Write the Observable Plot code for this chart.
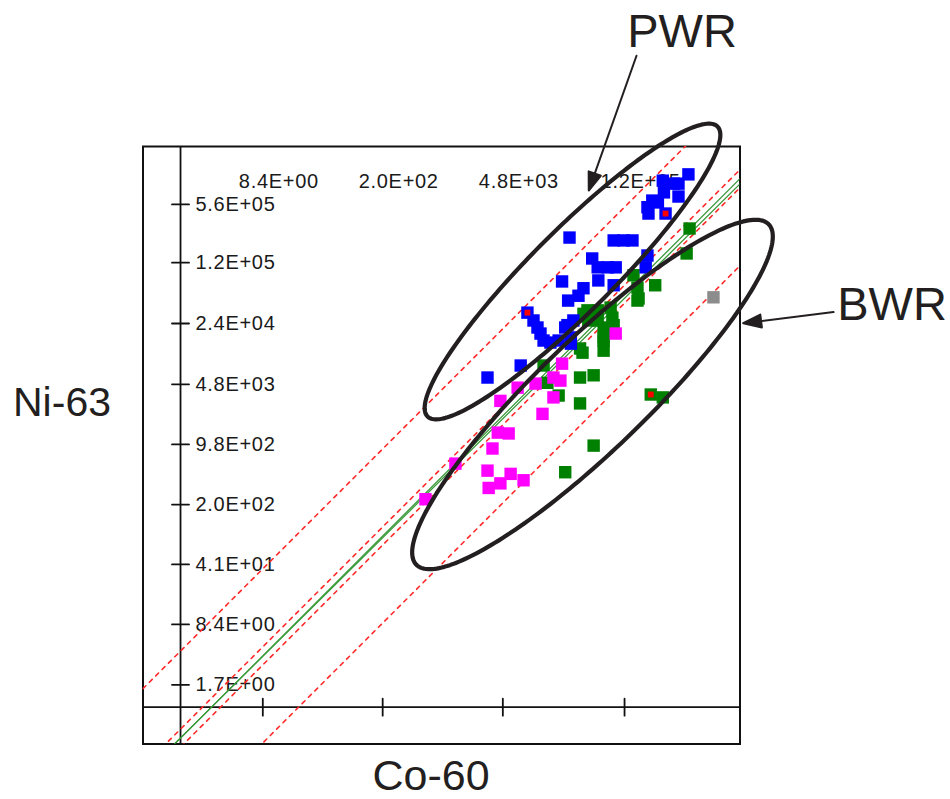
<!DOCTYPE html>
<html>
<head>
<meta charset="utf-8">
<script src="https://cdn.jsdelivr.net/npm/d3@7"></script>
<script src="https://cdn.jsdelivr.net/npm/@observablehq/plot@0.6"></script>
<style>
  html, body { margin: 0; padding: 0; background: #fff; }
  #chart svg { display: block; }
</style>
</head>
<body>
<div id="chart"></div>
<script>
// ---------- data (Co-60 vs Ni-63 activities) ----------
const co60Ticks = [8.4, 200, 4800, 120000];
const co60TickLabels = ["8.4E+00", "2.0E+02", "4.8E+03", "1.2E+05"];
const ni63Ticks = [1.7, 8.4, 41, 200, 980, 4800, 24000, 120000, 560000];
const ni63TickLabels = ["1.7E+00", "8.4E+00", "4.1E+01", "2.0E+02", "9.8E+02", "4.8E+03", "2.4E+04", "1.2E+05", "5.6E+05"];

// blue samples (PWR)
const blueCo60 = [6.5e5, 5.0e5, 3.3e5, 4.4e5, 5.0e5, 3.4e5, 2.5e5, 2.2e5, 2.26e5, 3.55e5, 2.9e5,
  2.8e4, 9.0e4, 1.17e5, 1.48e5, 2.2e5, 2.1e5, 5.1e4, 5.9e4, 7.7e4, 9.5e4, 6.0e4, 9.0e4, 2.3e4,
  4.05e4, 3.55e4, 2.7e4, 3.1e4, 2.5e4, 9.2e3, 1.08e4, 1.2e4, 1.3e4, 1.41e4, 1.69e4, 2.1e4, 2.9e4,
  2.65e4, 2.9e4, 7.7e3, 3.2e3];
const blueNi63 = [1.24e6, 9.7e5, 1.05e6, 9.7e5, 6.9e5, 7.7e5, 6.2e5, 5.2e5, 4.4e5, 4.4e5, 5.9e5,
  2.33e5, 2.16e5, 2.16e5, 2.16e5, 1.45e5, 1.06e5, 1.34e5, 1.06e5, 1.06e5, 1.06e5, 7.5e4, 6.6e4, 7.3e4,
  6.1e4, 5.0e4, 4.4e4, 2.6e4, 2.16e4, 3.2e4, 2.6e4, 2.16e4, 1.84e4, 1.53e4, 1.45e4, 1.53e4, 1.66e4,
  2.3e4, 1.41e4, 7.9e3, 5.75e3];

// green samples (BWR)
const greenCo60 = [6.7e5, 6.2e5, 2.7e5, 1.52e5, 1.69e5, 1.74e5, 8.3e4, 8.7e4, 6.9e4, 5.9e4, 4.5e4,
  4.6e4, 6.9e4, 6.9e4, 3.7e4, 4.05e4, 9.0e4, 1.69e5, 3.7e4, 5.3e4, 2.1e4, 3.7e4, 2.4e5, 3.3e5,
  5.3e4, 2.5e4, 1.41e4, 1.56e4, 5.9e4, 6.9e4, 3.95e4];
const greenNi63 = [2.96e5, 1.53e5, 6.6e4, 8.6e4, 6.2e4, 4.65e4, 3.66e4, 2.8e4, 2.16e4, 2.6e4, 3.4e4,
  2.6e4, 1.53e4, 1.17e4, 1.24e4, 3.1e4, 2.3e4, 4.4e4, 5.75e3, 6.1e3, 3.57e3, 2.9e3, 3.67e3, 3.4e3,
  950, 470, 7.9e3, 5.0e3, 3.4e4, 1.66e4, 1.11e4];

// magenta samples
const magentaCo60 = [9.5e4, 2.3e4, 1.83e4, 2.2e4, 1.14e4, 7.1e3, 1.83e4, 4.5e3, 1.37e4, 4.2e3,
  5.6e3, 3.65e3, 1.37e3, 3.2e3, 5.9e3, 8.3e3, 4.5e3, 3.3e3, 620];
const magentaNi63 = [1.84e4, 8.3e3, 5.75e3, 5.3e3, 4.9e3, 4.4e3, 3.4e3, 3.1e3, 2.2e3, 1.34e3,
  1.31e3, 880, 590, 490, 450, 380, 350, 310, 230];

// grey sample
const greyCo60 = [1.26e6];
const greyNi63 = [4.8e4];

// flagged samples (red marker)
const flaggedCo60 = [3.55e5, 9.2e3, 2.4e5];
const flaggedNi63 = [4.4e5, 3.2e4, 3.67e3];

// reference lines: Ni-63 = ratio * Co-60
const fitRatio = 0.435;
const fitExponents = [1, 0.99];
const fitPivot = 2.2;
const bandFactors = [10, 1.27, 1 / 1.27, 1 / 10];

// ellipses (in decades of Co-60 / Ni-63)
const ellipses = [
  { name: "PWR", cx: 4.4815, cy: 4.9776, a: 2.355, b: 0.471, angle: 45 },
  { name: "BWR", cx: 4.711, cy: 3.565, a: 2.814, b: 0.632, angle: 44 }
];

// annotation arrows: tip positions
const pwrArrowTip = [{ co60: 4.66e4, ni63: 8.09e5 }];
const bwrArrowTip = [{ co60: 2.77e6, ni63: 2.42e4 }];

// axis crossing point and scale extents
const originCo60 = 0.953;
const originNi63 = 0.94;
const co60Domain = [0.3533, 2.543e6];
const ni63Domain = [0.3551, 2.591e6];

// ---------- build ----------
const toRows = (xs, ys) => xs.map((x, i) => ({ co60: x, ni63: ys[i] }));
const blue = toRows(blueCo60, blueNi63);
const green = toRows(greenCo60, greenNi63);
const magenta = toRows(magentaCo60, magentaNi63);
const grey = toRows(greyCo60, greyNi63);
const flagged = toRows(flaggedCo60, flaggedNi63);

const fitLines = fitExponents.flatMap((e, k) =>
  co60Domain.map(x => ({ k, co60: x, ni63: fitRatio * fitPivot * Math.pow(x / fitPivot, e) })));
const bandLines = bandFactors.flatMap((f, k) =>
  co60Domain.map(x => ({ k, co60: x, ni63: fitRatio * f * x })));

function ellipsePoints(e) {
  const out = [];
  const n = 240, c = Math.cos(e.angle * Math.PI / 180), s = Math.sin(e.angle * Math.PI / 180);
  for (let i = 0; i <= n; i++) {
    const t = 2 * Math.PI * i / n;
    const u = e.a * Math.cos(t), v = e.b * Math.sin(t);
    out.push({ name: e.name, co60: Math.pow(10, e.cx + u * c - v * s), ni63: Math.pow(10, e.cy + u * s + v * c) });
  }
  return out;
}
const ellipseRows = ellipses.flatMap(ellipsePoints);

const tickShape = { draw(ctx, l) { ctx.moveTo(0, 0); ctx.lineTo(0, -l); } };
const arrowShape = {
  draw(ctx, l) {
    ctx.moveTo(0, 0); ctx.lineTo(0, -l + 12);
    ctx.moveTo(0, -l); ctx.lineTo(-6.5, -l + 18); ctx.lineTo(6.5, -l + 18); ctx.closePath();
  }
};

const ink = "#231f20";
const tickFont = "Liberation Sans, Arial, sans-serif";
const labelFont = "Liberation Sans, Arial, Helvetica, sans-serif";

const chart = Plot.plot({
  width: 950,
  height: 799,
  marginLeft: 142.5,
  marginRight: 210.5,
  marginTop: 146,
  marginBottom: 55.5,
  style: { background: "#fff", overflow: "visible" },
  x: { type: "log", domain: co60Domain, axis: null },
  y: { type: "log", domain: ni63Domain, axis: null },
  marks: [
    Plot.frame({ stroke: "#111", strokeWidth: 2 }),
    Plot.ruleX([originCo60], { stroke: "#111", strokeWidth: 1.8 }),
    Plot.ruleY([originNi63], { stroke: "#111", strokeWidth: 1.8 }),
    Plot.vector(ni63Ticks, { x: () => originCo60, y: d => d, length: 17, rotate: 90, anchor: "middle", shape: tickShape, stroke: "#111", strokeWidth: 1.8 }),
    Plot.vector(co60Ticks, { x: d => d, y: () => originNi63, length: 17, rotate: 0, anchor: "middle", shape: tickShape, stroke: "#111", strokeWidth: 1.8 }),
    Plot.text(ni63Ticks, { x: () => originCo60, y: d => d, text: (d, i) => ni63TickLabels[i], dx: 15, textAnchor: "start", lineAnchor: "middle", fontSize: 20, fontFamily: tickFont, fill: "#1a1a1a" }),
    Plot.text(co60Ticks, { x: d => d, frameAnchor: "top", dx: 16, dy: 35, text: (d, i) => co60TickLabels[i], textAnchor: "middle", lineAnchor: "middle", fontSize: 20, fontFamily: tickFont, fill: "#1a1a1a" }),
    Plot.line(bandLines, { x: "co60", y: "ni63", z: "k", stroke: "#ff2a2a", strokeWidth: 1.6, strokeDasharray: "4,5", clip: true }),
    Plot.line(fitLines, { x: "co60", y: "ni63", z: "k", stroke: "#3a9a3a", strokeWidth: 1.3, clip: true }),
    Plot.dot(green, { x: "co60", y: "ni63", symbol: "square", r: 7, fill: "#008000" }),
    Plot.dot(blue, { x: "co60", y: "ni63", symbol: "square", r: 7, fill: "#0000ff" }),
    Plot.dot(magenta, { x: "co60", y: "ni63", symbol: "square", r: 7, fill: "#ff00ff" }),
    Plot.dot(grey, { x: "co60", y: "ni63", symbol: "square", r: 7, fill: "#8c8c8c" }),
    Plot.dot(flagged, { x: "co60", y: "ni63", symbol: "square", r: 3.3, fill: "#ff0000" }),
    Plot.line(ellipseRows, { x: "co60", y: "ni63", z: "name", stroke: ink, strokeWidth: 4.2, clip: false }),
    Plot.vector(pwrArrowTip, { x: "co60", y: "ni63", length: 143, rotate: 199.5, anchor: "end", shape: arrowShape, stroke: ink, fill: ink, strokeWidth: 2 }),
    Plot.vector(bwrArrowTip, { x: "co60", y: "ni63", length: 91, rotate: 263, anchor: "end", shape: arrowShape, stroke: ink, fill: ink, strokeWidth: 2 }),
    Plot.text(["PWR"], { frameAnchor: "top-left", dx: 539, dy: -115, text: d => d, textAnchor: "middle", lineAnchor: "middle", fontSize: 47, fontFamily: labelFont, fill: ink }),
    Plot.text(["BWR"], { frameAnchor: "top-left", dx: 749, dy: 158, text: d => d, textAnchor: "middle", lineAnchor: "middle", fontSize: 47, fontFamily: labelFont, fill: ink }),
    Plot.text(["Ni-63"], { frameAnchor: "left", dx: -81, dy: -42, text: d => d, textAnchor: "middle", lineAnchor: "middle", fontSize: 41, fontFamily: labelFont, fill: ink }),
    Plot.text(["Co-60"], { frameAnchor: "bottom", dx: -10.5, dy: 32.5, text: d => d, textAnchor: "middle", lineAnchor: "middle", fontSize: 43, fontFamily: labelFont, fill: ink })
  ]
});
// widen tick-label spacing to match the bitmap-style labels
chart.querySelectorAll("text").forEach(t => {
  if (/^\d\.\dE\+\d\d$/.test(t.textContent)) t.style.letterSpacing = "0.7px";
});
document.getElementById("chart").appendChild(chart);
</script>
</body>
</html>
